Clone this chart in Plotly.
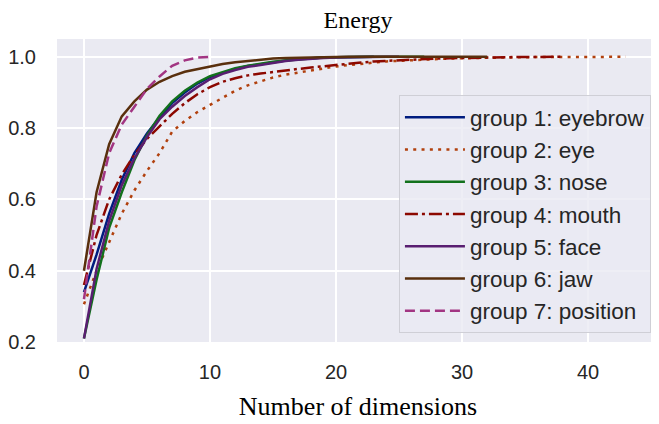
import plotly.graph_objects as go

names = ["group 1: eyebrow", "group 2: eye", "group 3: nose", "group 4: mouth",
         "group 5: face", "group 6: jaw", "group 7: position"]

eyebrow = [0.34, 0.445, 0.56, 0.655, 0.73, 0.785, 0.83, 0.87, 0.90, 0.925, 0.943,
           0.955, 0.966, 0.974, 0.98, 0.986, 0.99, 0.994, 0.997, 0.998, 0.999,
           0.9995, 1.0, 1.0]
eye = [0.306, 0.40, 0.48, 0.56, 0.625, 0.68, 0.73, 0.79, 0.82, 0.845, 0.865,
       0.885, 0.905, 0.92, 0.932, 0.942, 0.95, 0.956, 0.962, 0.968, 0.973,
       0.977, 0.981, 0.984, 0.987, 0.989, 0.991, 0.993, 0.994, 0.995, 0.996,
       0.997, 0.9975, 0.998, 0.9985, 0.999, 0.9993, 0.9995, 0.9997, 0.9998,
       0.9999, 1.0, 1.0, 1.0]
nose = [0.21, 0.375, 0.52, 0.62, 0.71, 0.78, 0.835, 0.875, 0.905, 0.928, 0.946,
        0.958, 0.968, 0.975, 0.981, 0.986, 0.99, 0.993, 0.996, 0.998, 0.999,
        1.0, 1.0, 1.0, 1.0, 1.0, 1.0, 1.0]
mouth = [0.36, 0.50, 0.60, 0.67, 0.725, 0.77, 0.805, 0.84, 0.87, 0.895, 0.915,
         0.93, 0.94, 0.948, 0.953, 0.958, 0.962, 0.966, 0.97, 0.974, 0.978,
         0.981, 0.984, 0.987, 0.989, 0.991, 0.993, 0.994, 0.995, 0.996, 0.997,
         0.998, 0.9985, 0.999, 0.9993, 0.9996, 0.9998, 0.9999, 1.0]
face = [0.21, 0.405, 0.54, 0.64, 0.715, 0.775, 0.825, 0.86, 0.89, 0.915, 0.937,
        0.952, 0.963, 0.972, 0.977, 0.983, 0.988, 0.992, 0.995, 0.997, 0.998,
        0.999, 1.0, 1.0, 1.0, 1.0]
jaw = [0.40, 0.62, 0.755, 0.833, 0.875, 0.908, 0.93, 0.946, 0.958, 0.966, 0.974,
       0.98, 0.985, 0.989, 0.992, 0.995, 0.997, 0.998, 0.999, 0.9995, 1.0, 1.0,
       1.0, 1.0, 1.0, 1.0, 1.0, 1.0, 1.0, 1.0, 1.0, 1.0, 1.0]
position = [0.32, 0.58, 0.73, 0.81, 0.86, 0.91, 0.945, 0.975, 0.99, 0.998, 1.0]

series = [eyebrow, eye, nose, mouth, face, jaw, position]
colors = ["#001c7f", "#b1400d", "#12711c", "#8c0800", "#591e71", "#592f0d", "#a23582"]
dashes = ["solid", "3px,5.3px", "solid", "13px,4px,3px,4px", "solid", "solid", "10px,5px"]

x_ticks = [0, 10, 20, 30, 40]
y_ticks = [0.2, 0.4, 0.6, 0.8, 1.0]

fig = go.Figure()
for i, (name, ys) in enumerate(zip(names, series)):
    fig.add_trace(go.Scatter(
        x=list(range(len(ys))), y=ys, mode="lines", name=name,
        legendgroup=f"g{i}",
        line=dict(color=colors[i], width=2.5, dash=dashes[i]),
    ))

fig.update_layout(
    width=659, height=424,
    margin=dict(l=49, r=8, t=31, b=90, autoexpand=False),
    paper_bgcolor="white", plot_bgcolor="#eaeaf2",
    title=dict(text="Energy", x=0.5, xref="paper", y=0.972, yref="container",
               yanchor="middle",
               font=dict(family="Liberation Serif", size=24, color="black")),
    showlegend=True,
    legend=dict(x=0.568, xanchor="left", y=0.815, yanchor="top",
                bgcolor="rgba(234,234,242,0.8)", bordercolor="#cfcfd6", borderwidth=1,
                font=dict(family="Liberation Sans", size=22.5, color="#262626"),
                tracegroupgap=0, itemwidth=60),
    font=dict(family="Liberation Sans", color="#262626"),
)
fig.update_xaxes(range=[-2.14, 45.63], tickvals=x_ticks, showgrid=True, automargin=False,
                 gridcolor="white", gridwidth=1.5, zeroline=False, showline=False,
                 tickfont=dict(size=20, color="#262626"), ticklabelstandoff=16,
                 title=dict(text="Number of dimensions", standoff=14,
                            font=dict(family="Liberation Serif", size=26, color="black")))
fig.update_yaxes(range=[0.2, 1.05], tickvals=y_ticks, tickformat=".1f", showgrid=True,
                 automargin=False,
                 gridcolor="white", gridwidth=1.5, zeroline=False, showline=False,
                 tickfont=dict(size=20, color="#262626"), ticklabelstandoff=20)

fig.write_html("out.html")
